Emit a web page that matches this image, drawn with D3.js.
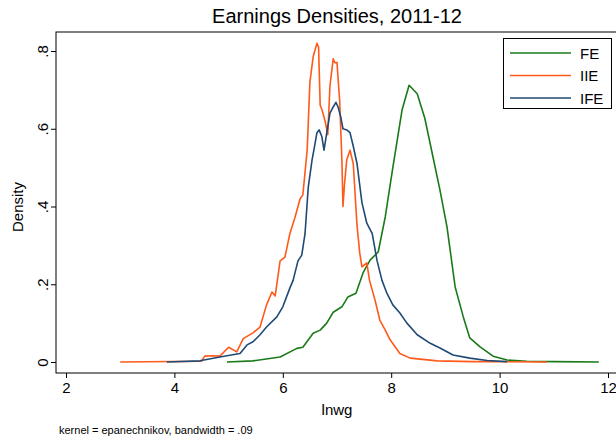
<!DOCTYPE html>
<html><head><meta charset="utf-8">
<script src="https://cdn.jsdelivr.net/npm/d3@7"></script>
<style>body{margin:0;background:#fff}svg{display:block;font-family:"Liberation Sans",Arial,sans-serif}</style>
</head><body><svg id="c" width="616" height="439"></svg>
<script>
const seriesNames = ["FE", "IIE", "IFE"];
const seriesColors = ["#1a7a1a", "#ff5a1a", "#1f4a75"];
const xTicks = [2, 4, 6, 8, 10, 12];
const yTicks = [0, 0.2, 0.4, 0.6, 0.8];
const yTickLabels = ["0", ".2", ".4", ".6", ".8"];

const feX = [4.97,5.45,5.95,6.26,6.37,6.56,6.69,6.81,6.93,7.09,7.2,7.35,7.48,7.61,7.76,7.89,8.03,8.2,8.33,8.48,8.62,8.77,8.9,9.03,9.18,9.33,9.45,9.64,9.88,10.14,10.5,11.0,11.83];
const feY = [0,0.003,0.013,0.035,0.038,0.074,0.082,0.10,0.128,0.142,0.167,0.177,0.229,0.262,0.283,0.373,0.50,0.648,0.712,0.69,0.627,0.528,0.442,0.347,0.193,0.116,0.062,0.039,0.015,0.005,0.002,0.001,0];

const iieX = [3.0,4.5,4.56,4.7,4.84,5.0,5.15,5.27,5.45,5.58,5.7,5.8,5.86,5.95,6.04,6.13,6.22,6.32,6.37,6.45,6.5,6.56,6.63,6.66,6.69,6.72,6.78,6.83,6.87,6.93,6.96,7.0,7.05,7.09,7.11,7.14,7.18,7.24,7.3,7.37,7.42,7.46,7.55,7.6,7.7,7.79,7.89,7.98,8.16,8.35,8.85,9.5,10.87];
const iieY = [0,0.002,0.015,0.016,0.015,0.038,0.026,0.06,0.075,0.09,0.147,0.18,0.17,0.26,0.27,0.33,0.37,0.42,0.43,0.545,0.72,0.785,0.82,0.81,0.66,0.65,0.62,0.585,0.71,0.78,0.77,0.77,0.67,0.52,0.40,0.46,0.52,0.545,0.51,0.35,0.28,0.245,0.255,0.21,0.16,0.108,0.082,0.057,0.022,0.01,0.003,0.001,0];

const ifeX = [3.86,4.47,4.84,4.97,5.21,5.34,5.45,5.58,5.7,5.89,6.0,6.13,6.19,6.28,6.35,6.41,6.47,6.54,6.58,6.63,6.67,6.72,6.76,6.82,6.87,6.93,6.98,7.02,7.07,7.11,7.18,7.24,7.3,7.37,7.46,7.55,7.65,7.74,7.83,7.92,8.03,8.16,8.29,8.48,8.72,8.9,9.14,9.45,9.77,10.14];
const ifeY = [0,0.003,0.013,0.016,0.022,0.044,0.052,0.07,0.09,0.116,0.142,0.19,0.21,0.26,0.275,0.33,0.45,0.52,0.55,0.59,0.597,0.58,0.545,0.597,0.64,0.656,0.668,0.656,0.63,0.60,0.597,0.59,0.555,0.51,0.41,0.357,0.33,0.26,0.21,0.177,0.147,0.126,0.10,0.07,0.048,0.036,0.018,0.01,0.004,0.001];

const seriesX = [feX, iieX, ifeX];
const seriesY = [feY, iieY, ifeY];

const svg = d3.select("#c");
const L = 56, R = 620, T = 32, B = 373;
const x = d3.scaleLinear().domain([2, 12]).range([66, 608]);
const y = d3.scaleLinear().domain([0, 0.8]).range([362, 51]);

// frame
svg.append("rect").attr("x", L).attr("y", T).attr("width", R - L).attr("height", B - T)
  .attr("fill", "none").attr("stroke", "#000").attr("stroke-width", 1);

// axes
const xAxis = d3.axisBottom(x).tickValues(xTicks).tickSize(5).tickPadding(4).tickFormat(d3.format("d"));
const gx = svg.append("g").attr("transform", `translate(0,${B})`).call(xAxis);
gx.select(".domain").remove();
gx.selectAll("text").attr("font-size", 15).attr("fill", "#000").attr("font-family", "Liberation Sans, Arial, sans-serif");
gx.selectAll("line").attr("stroke", "#000");

const yAxis = d3.axisLeft(y).tickValues(yTicks).tickSize(5).tickPadding(4).tickFormat((d, i) => yTickLabels[i]);
const gy = svg.append("g").attr("transform", `translate(${L},0)`).call(yAxis);
gy.select(".domain").remove();
gy.selectAll("line").attr("stroke", "#000");
gy.selectAll("text").attr("font-size", 15).attr("fill", "#000")
  .attr("font-family", "Liberation Sans, Arial, sans-serif")
  .attr("text-anchor", "middle").attr("dy", null)
  .attr("transform", "translate(-13,0) rotate(-90)")
  .attr("x", 0).attr("y", 0).attr("dy", "0.35em");

// curves
const line = d3.line().x(d => x(d[0])).y(d => y(d[1]));
seriesNames.forEach((n, i) => {
  const pts = seriesX[i].map((v, j) => [v, seriesY[i][j]]);
  svg.append("path").attr("d", line(pts)).attr("fill", "none")
    .attr("stroke", seriesColors[i]).attr("stroke-width", 1.6).attr("stroke-linejoin", "round");
});

// titles
svg.append("text").attr("x", 337).attr("y", 23).attr("text-anchor", "middle")
  .attr("font-size", 20).attr("fill", "#000").text("Earnings Densities, 2011-12");
svg.append("text").attr("x", 337).attr("y", 415).attr("text-anchor", "middle")
  .attr("font-size", 15).attr("fill", "#000").text("lnwg");
svg.append("text").attr("transform", "translate(23,207) rotate(-90)").attr("text-anchor", "middle")
  .attr("font-size", 15).attr("fill", "#000").text("Density");
svg.append("text").attr("x", 59).attr("y", 434).attr("font-size", 11).attr("fill", "#000")
  .text("kernel = epanechnikov, bandwidth = .09");

// legend
const lg = svg.append("g");
lg.append("rect").attr("x", 503.5).attr("y", 38.5).attr("width", 108).attr("height", 70)
  .attr("fill", "#fff").attr("stroke", "#000");
seriesNames.forEach((n, i) => {
  const yy = 53 + i * 22.5;
  lg.append("line").attr("x1", 510).attr("x2", 571).attr("y1", yy).attr("y2", yy)
    .attr("stroke", seriesColors[i]).attr("stroke-width", 1.6);
  lg.append("text").attr("x", 580).attr("y", yy + 5.5).attr("font-size", 15).attr("fill", "#000").text(n);
});
</script></body></html>
